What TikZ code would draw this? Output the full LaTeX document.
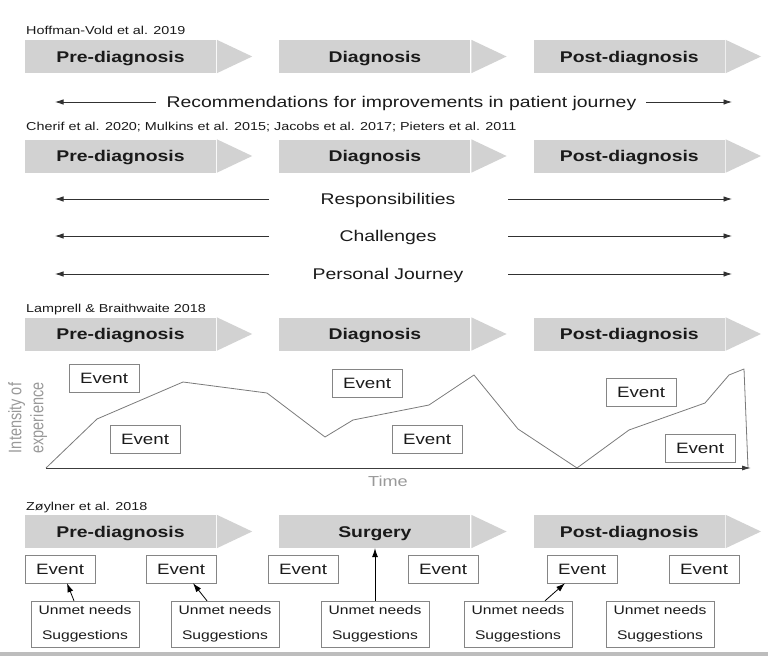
\documentclass[tikz,border=0pt]{standalone}
\usepackage{fontspec}
\setmainfont{Liberation Sans}[FakeStretch=1.25]
\newfontfamily\plainsans{Liberation Sans}
\usetikzlibrary{positioning}
\usetikzlibrary{arrows.meta}
\definecolor{phase}{HTML}{D2D2D2}
\definecolor{boxline}{HTML}{858585}
\definecolor{curve}{HTML}{7A7A7A}
\definecolor{axislabel}{HTML}{999999}
\definecolor{ink}{HTML}{1A1A1A}
\newcommand{\phasetip}[1]{\fill[phase] ([xshift=0.7pt]#1.north east) -- ([xshift=36pt]#1.east) -- ([xshift=0.7pt]#1.south east) -- cycle;}

\begin{document}
\begin{tikzpicture}[x=1pt,y=-1pt,node distance=63pt,text=ink,
  phase node/.style={fill=phase, minimum width=191pt, minimum height=33pt, inner sep=0pt, text height=11pt, text depth=0pt, font=\bfseries\fontsize{15.5}{18}\selectfont},
  ref node/.style={anchor=base west, inner sep=0pt, font=\fontsize{11.5}{13}\selectfont},
  label node/.style={inner sep=0pt, text height=11pt, text depth=0pt, font=\fontsize{15.5}{18}\selectfont},
  event node/.style={draw=boxline, minimum width=70pt, minimum height=28pt, inner sep=0pt, text height=10.7pt, text depth=0pt, font=\fontsize{15}{18}\selectfont},
  need node/.style={draw=boxline, minimum width=108pt, minimum height=46pt, inner sep=0pt, align=center, font=\fontsize{12.5}{25}\selectfont},
  arr/.style={-{Latex[length=8.5pt,width=5.5pt]}, line width=0.75pt, ink!90},
  up arr/.style={-{Latex[length=9pt,width=6pt]}, line width=0.8pt}]
\useasboundingbox (0,0) rectangle (768,656);

% Hoffman-Vold
\node[ref node] (hv) at (26,34) {Hoffman-Vold et al. 2019};
\node[phase node] (p1) at (120.5,56.5) {Pre-diagnosis};
\node[phase node, right=of p1] (d1) {Diagnosis};
\node[phase node, right=of d1] (q1) {Post-diagnosis};
\phasetip{p1}\phasetip{d1}\phasetip{q1}
\node[label node] (rec) at (401.5,102) {Recommendations for improvements in patient journey};
\coordinate (rl) at (55,102);
\coordinate (rr) at (732,102);
\draw[arr] ([xshift=-11pt]rec.west) -- (rl);
\draw[arr] ([xshift=10pt]rec.east) -- (rr);

% Cherif et al.
\node[ref node] (ch) at (26,130) {Cherif et al. 2020; Mulkins et al. 2015; Jacobs et al. 2017; Pieters et al. 2011};
\node[phase node] (p2) at (120.5,156) {Pre-diagnosis};
\node[phase node, right=of p2] (d2) {Diagnosis};
\node[phase node, right=of d2] (q2) {Post-diagnosis};
\phasetip{p2}\phasetip{d2}\phasetip{q2}
\foreach \t/\y [count=\i] in {Responsibilities/199, Challenges/236, Personal Journey/274}{
  \node[label node] (t\i) at (388,\y) {\t};
  \coordinate (la\i) at (269,\y);
  \coordinate (lb\i) at (55,\y);
  \coordinate (ra\i) at (508,\y);
  \coordinate (rb\i) at (732,\y);
  \draw[arr] (la\i) -- (lb\i);
  \draw[arr] (ra\i) -- (rb\i);
}

% Lamprell & Braithwaite
\node[ref node] (lb) at (26,312) {Lamprell \& Braithwaite 2018};
\node[phase node] (p3) at (120.5,334) {Pre-diagnosis};
\node[phase node, right=of p3] (d3) {Diagnosis};
\node[phase node, right=of d3] (q3) {Post-diagnosis};
\phasetip{p3}\phasetip{d3}\phasetip{q3}
\coordinate (o) at (46,468);
\coordinate (tend) at (751,468);
\draw[curve, line width=0.8pt, line join=round] (o) -- (97,419) -- (183,382) -- (267,393) -- (325,437) -- (353,420)
  -- (429,405) -- (474,375) -- (518,429) -- (577,468) -- (629,430) -- (705,403) -- (729,375) -- (744,369) -- (748,468);
\draw[-{Latex[length=9pt,width=5pt]}, line width=0.9pt, ink!85] (o) -- (tend);
\node[inner sep=0pt, text=axislabel] (ylab) at (28,418)
  {\scalebox{1.25}[1]{\rotatebox{90}{\plainsans\fontsize{14.5}{17.6}\selectfont\begin{tabular}{@{}c@{}}Intensity of\\experience\end{tabular}}}};
\node[inner sep=0pt, text=axislabel, font=\fontsize{14.5}{17}\selectfont] (time) at (388,481) {Time};
\node[event node] (g1) at (104,378) {Event};
\node[event node] (g2) at (145,439) {Event};
\node[event node] (g3) at (367,383) {Event};
\node[event node] (g4) at (427,439) {Event};
\node[event node] (g5) at (641,392) {Event};
\node[event node] (g6) at (700,448) {Event};

% Zoylner et al.
\node[ref node] (zy) at (26,510) {Zøylner et al. 2018};
\node[phase node] (p4) at (120.5,531.5) {Pre-diagnosis};
\node[phase node, right=of p4] (s4) {Surgery};
\node[phase node, right=of s4] (q4) {Post-diagnosis};
\phasetip{p4}\phasetip{s4}\phasetip{q4}
\foreach \x [count=\i] in {60,181,303,443,582,704}
  \node[event node] (e\i) at (\x,569) {Event};
\foreach \x [count=\i] in {85,225,375,518,660}
  \node[need node] (u\i) at (\x,624) {Unmet needs\\Suggestions};
\draw[up arr] ([xshift=-11pt]u1.north) -- ([xshift=7pt]e1.south);
\draw[up arr] ([xshift=-18pt]u2.north) -- ([xshift=12pt]e2.south);
\draw[up arr] (u3.north) -- (u3.north |- s4.south);
\draw[up arr] ([xshift=27pt]u4.north) -- ([xshift=-17pt]e5.south);

\fill[phase!90!black] (0,651.5) rectangle (768,656);
\end{tikzpicture}
\end{document}
